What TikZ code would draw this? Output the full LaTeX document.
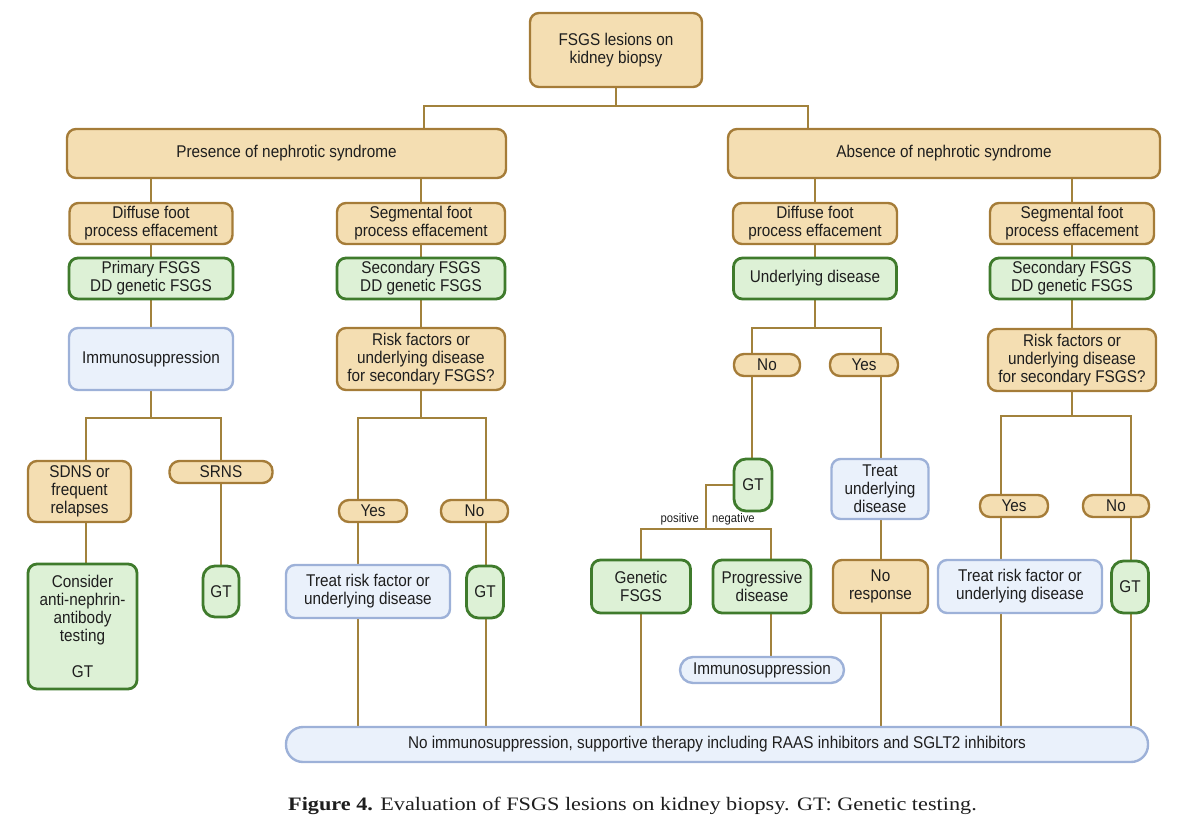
\documentclass[tikz,border=0pt]{standalone}
\usepackage{fontspec}
\setmainfont[FakeStretch=0.9]{Liberation Sans}
\newfontfamily\capfont[FakeStretch=1.17]{Liberation Serif}
\usetikzlibrary{backgrounds}
\definecolor{tanF}{HTML}{F4DEB2}
\definecolor{tanD}{HTML}{A57C38}
\definecolor{grnF}{HTML}{DDF1D6}
\definecolor{grnD}{HTML}{3F7B2C}
\definecolor{bluF}{HTML}{EAF1FB}
\definecolor{bluD}{HTML}{9DB1D8}
\definecolor{lnC}{HTML}{A2823C}
\definecolor{txt}{HTML}{1E1E1E}
\tikzset{
  box/.style={rounded corners=9pt, line width=2.4pt, inner sep=0pt, align=center, text=txt,
    font=\fontsize{17}{18}\selectfont},
  tanbox/.style={box, draw=tanD, fill=tanF},
  grnbox/.style={box, draw=grnD, fill=grnF, line width=2.8pt},
  blubox/.style={box, draw=bluD, fill=bluF},
  pill/.style={tanbox, rounded corners=10pt},
  sz/.style n args={2}{minimum width=#1pt, minimum height=#2pt},
  conn/.style={draw=lnC, line width=2.5pt},
  lbl/.style={font=\fontsize{12.5}{13}\selectfont, text=txt, inner sep=0pt}
}
\begin{document}
\begin{tikzpicture}[x=1pt,y=-1pt]
\useasboundingbox (0,0) rectangle (1200,819);
% level 0-1
\node[tanbox, sz={172}{74}] (top) at (616,50) {FSGS lesions on\\kidney biopsy};
\node[tanbox, sz={439}{49}] (pres) at (286.5,153.5) {Presence of nephrotic syndrome};
\node[tanbox, sz={432}{49}] (abs) at (944,153.5) {Absence of nephrotic syndrome};
% level 2
\node[tanbox, sz={163}{41}] (dfL) at (151,223.5) {Diffuse foot\\process effacement};
\node[tanbox, sz={168}{41}] (sfL) at (421,223.5) {Segmental foot\\process effacement};
\node[tanbox, sz={164}{41}] (dfR) at (815,223.5) {Diffuse foot\\process effacement};
\node[tanbox, sz={164}{41}] (sfR) at (1072,223.5) {Segmental foot\\process effacement};
% level 3
\node[grnbox, sz={164}{41}] (prim) at (151,278.5) {Primary FSGS\\DD genetic FSGS};
\node[grnbox, sz={168}{41}] (secL) at (421,278.5) {Secondary FSGS\\DD genetic FSGS};
\node[grnbox, sz={163}{41}] (undR) at (815,278.5) {Underlying disease};
\node[grnbox, sz={164}{41}] (secR) at (1072,278.5) {Secondary FSGS\\DD genetic FSGS};
% level 4
\node[blubox, sz={164}{62}] (immL) at (151,359) {Immunosuppression};
\node[tanbox, sz={168}{62}] (riskL) at (421,359) {Risk factors or\\underlying disease\\for secondary FSGS?};
\node[tanbox, sz={168}{62}] (riskR) at (1072,360) {Risk factors or\\underlying disease\\for secondary FSGS?};
\node[pill, sz={66}{22}] (noR) at (767,365) {No};
\node[pill, sz={68}{22}] (yesR) at (864,365) {Yes};
% left column
\node[tanbox, sz={103}{61}] (sdns) at (79.5,491.5) {SDNS or\\frequent\\relapses};
\node[pill, sz={103}{22}] (srns) at (221,472) {SRNS};
\node[grnbox, sz={109}{125}] (cons) at (82.5,626.5) {Consider\\anti-nephrin-\\antibody\\testing\\[18pt]GT};
\node[grnbox, sz={36}{51}, rounded corners=12pt] (gtA) at (221,591.5) {GT};
\node[pill, sz={68}{22}] (yesL) at (373,511) {Yes};
\node[pill, sz={67}{22}] (noL) at (474.5,511) {No};
\node[blubox, sz={164}{53}] (trL) at (368,591.5) {Treat risk factor or\\underlying disease};
\node[grnbox, sz={37}{52}, rounded corners=12pt] (gtL) at (485,592) {GT};
% centre
\node[grnbox, sz={38}{52}, rounded corners=12pt] (gtC) at (753,485) {GT};
\node[blubox, sz={97}{60}] (trU) at (880,489) {Treat\\underlying\\disease};
\node[grnbox, sz={99}{53}] (gen) at (641,586.5) {Genetic\\FSGS};
\node[grnbox, sz={98}{53}] (prog) at (762,586.5) {Progressive\\disease};
\node[tanbox, sz={95}{53}] (nore) at (880.5,586.5) {No\\response};
\node[blubox, sz={164}{26}, rounded corners=13pt] (immS) at (762,670) {Immunosuppression};
% right
\node[pill, sz={68}{22}] (yesR2) at (1014,506) {Yes};
\node[pill, sz={66}{22}] (noR2) at (1116,506) {No};
\node[blubox, sz={164}{53}] (trR) at (1020,586.5) {Treat risk factor or\\underlying disease};
\node[grnbox, sz={37}{52}, rounded corners=12pt] (gtR) at (1130,587) {GT};
% bottom bar
\node[blubox, sz={862}{35}, rounded corners=17pt] (bar) at (717,744.5) {No immunosuppression, supportive therapy including RAAS inhibitors and SGLT2 inhibitors};
% labels
\node[lbl, anchor=east] (pos) at (699,519) {positive};
\node[lbl, anchor=west] (neg) at (712,519) {negative};
% caption
\node[anchor=base west, inner sep=0pt, text=txt, font=\capfont\fontsize{19}{20}\selectfont] (cap) at (288,810)
  {\textbf{Figure 4.} Evaluation of FSGS lesions on kidney biopsy. GT: Genetic testing.};
% junction coordinates
\coordinate (j0) at (616,106);
\coordinate (jL) at (151,418);
\coordinate (jRL) at (421,418);
\coordinate (jU) at (815,328);
\coordinate (jG) at (706,485);
\coordinate (jG2) at (706,529);
\coordinate (jRR) at (1072,416);
\begin{scope}[on background layer]
\draw[conn] (top.south) -- (j0);
\draw[conn] (pres.north -| 424,0) |- (j0) -| (abs.north -| 808,0);
\draw[conn] (pres.south -| dfL.north) -- (dfL.north);
\draw[conn] (pres.south -| sfL.north) -- (sfL.north);
\draw[conn] (abs.south -| dfR.north) -- (dfR.north);
\draw[conn] (abs.south -| sfR.north) -- (sfR.north);
\draw[conn] (dfL) -- (prim) -- (immL);
\draw[conn] (sfL) -- (secL) -- (riskL);
\draw[conn] (dfR) -- (undR);
\draw[conn] (sfR) -- (secR) -- (riskR);
% left immuno branch
\draw[conn] (immL.south) -- (jL);
\draw[conn] (sdns.north -| 86,0) |- (jL) -| (srns.north);
\draw[conn] (sdns.south -| 86,0) -- (cons.north -| 86,0);
\draw[conn] (srns.south) -- (gtA.north);
% risk left
\draw[conn] (riskL.south) -- (jRL);
\draw[conn] (yesL.north -| 358,0) |- (jRL) -| (noL.north -| 486,0);
\draw[conn] (yesL.south -| 358,0) -- (trL.north -| 358,0);
\draw[conn] (noL.south -| 486,0) -- (gtL.north -| 486,0);
\draw[conn] (trL.south -| 358,0) -- (bar.north -| 358,0);
\draw[conn] (gtL.south -| 486,0) -- (bar.north -| 486,0);
% underlying disease
\draw[conn] (undR.south) -- (jU);
\draw[conn] (noR.north -| 752,0) |- (jU) -| (yesR.north -| 881,0);
\draw[conn] (noR.south -| 752,0) -- (gtC.north -| 752,0);
\draw[conn] (yesR.south -| 881,0) -- (trU.north -| 881,0);
\draw[conn] (trU.south -| 881,0) -- (nore.north -| 881,0);
\draw[conn] (nore.south -| 881,0) -- (bar.north -| 881,0);
% GT centre
\draw[conn] (gtC.west) -- (jG) -- (jG2);
\draw[conn] (gen.north) |- (jG2) -| (prog.north -| 771,0);
\draw[conn] (gen.south) -- (bar.north -| gen.south);
\draw[conn] (prog.south -| 771,0) -- (immS.north -| 771,0);
% risk right
\draw[conn] (riskR.south) -- (jRR);
\draw[conn] (yesR2.north -| 1001,0) |- (jRR) -| (noR2.north -| 1131,0);
\draw[conn] (yesR2.south -| 1001,0) -- (trR.north -| 1001,0);
\draw[conn] (noR2.south -| 1131,0) -- (gtR.north -| 1131,0);
\draw[conn] (trR.south -| 1001,0) -- (bar.north -| 1001,0);
\draw[conn] (gtR.south -| 1131,0) -- (bar.north -| 1131,0);
\end{scope}
\end{tikzpicture}
\end{document}
